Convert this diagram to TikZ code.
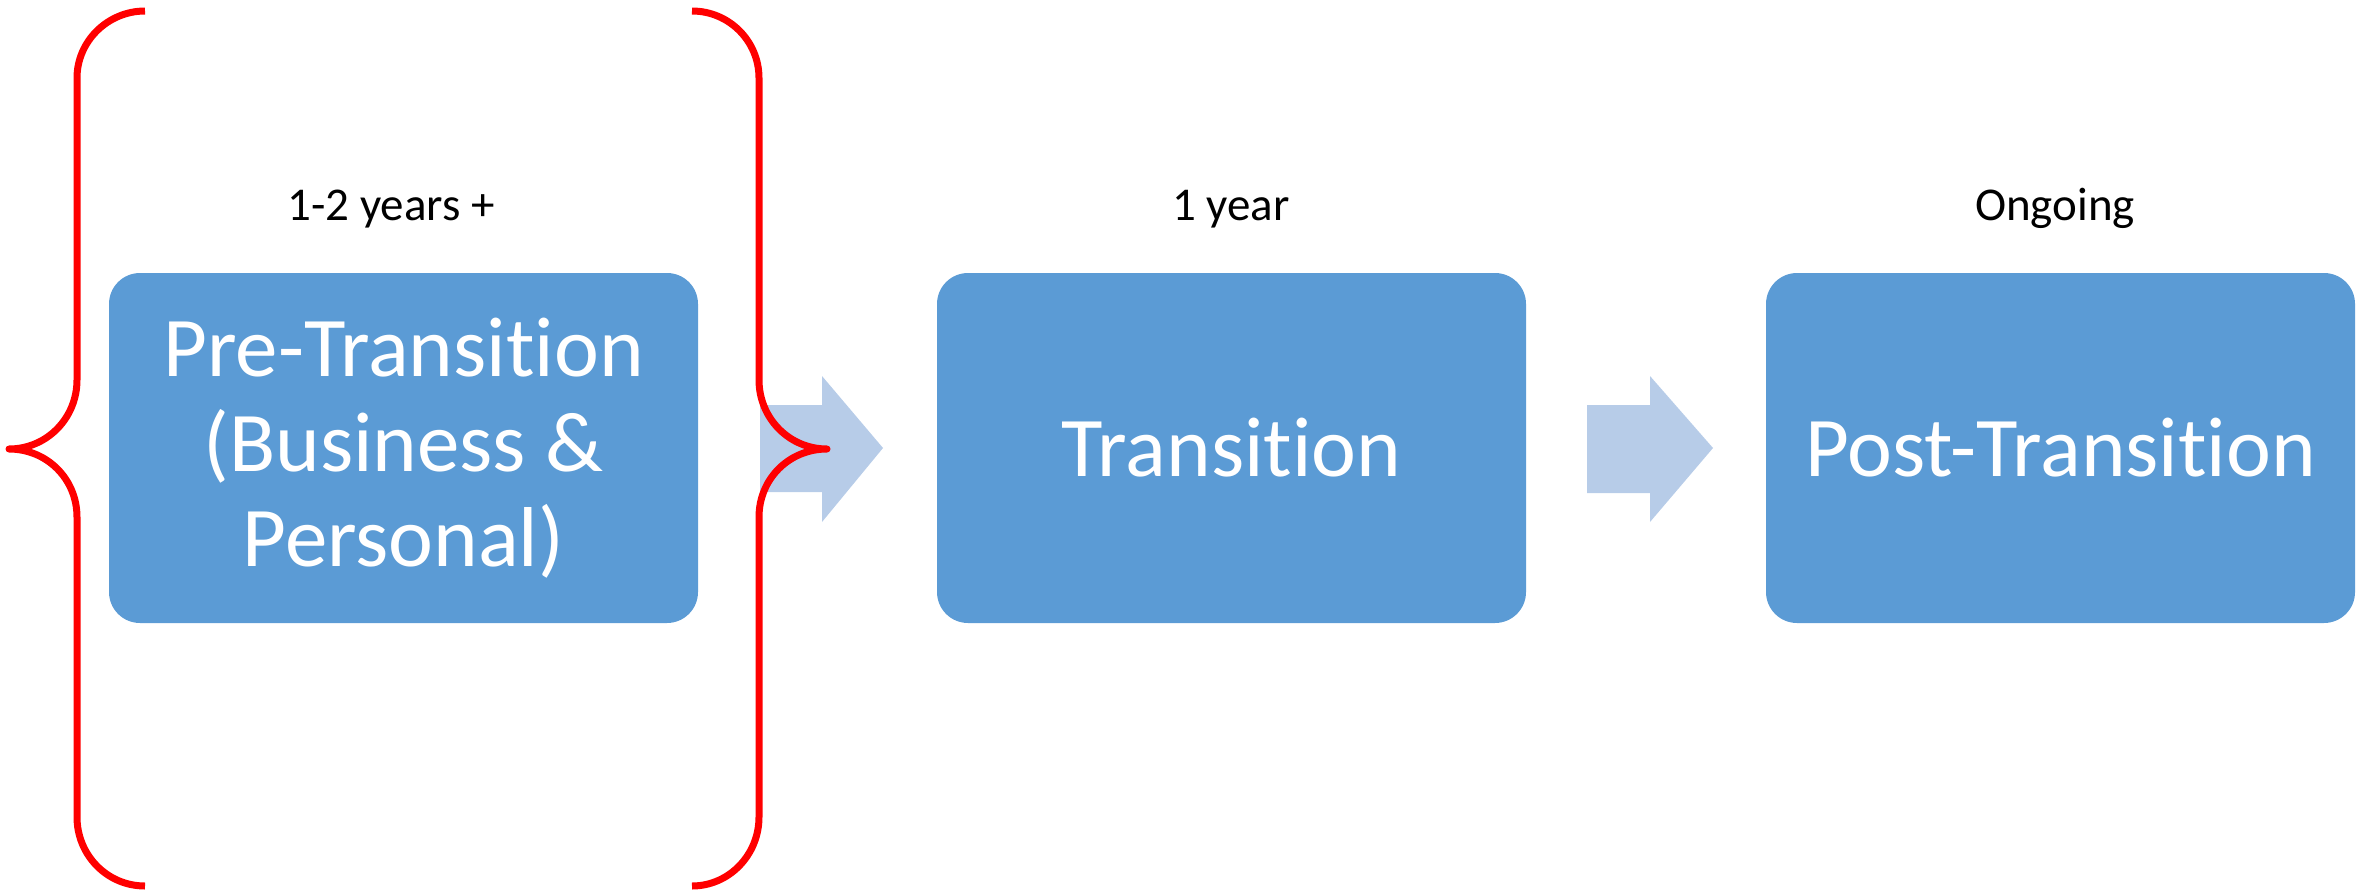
\documentclass[tikz,border=0pt]{standalone}
\usepackage{fontspec}
\setmainfont{Carlito}[Ligatures={NoCommon,NoContextual}]
\definecolor{boxblue}{HTML}{5B9BD5}
\definecolor{arrowblue}{HTML}{B7CCE8}
\definecolor{bracered}{HTML}{FF0000}
\tikzset{
  phase/.style={fill=boxblue, rounded corners=31pt, minimum width=589pt, minimum height=350pt, inner sep=0pt, text=white, align=center, font=\fontsize{85}{95}\selectfont},
  period/.style={anchor=base, font=\fontsize{47}{55}\selectfont, text=black},
  flow/.style={fill=arrowblue, draw=none},
  brace/.style={draw=bracered, line width=7pt, line cap=butt, line join=round}
}
\begin{document}
\begin{tikzpicture}[x=1pt,y=-1pt]
\useasboundingbox (0,0) rectangle (2374,891);
% arrows
\fill[flow] (760,405) -- (822,405) -- (822,376) -- (883,448) -- (822,522) -- (822,492) -- (760,492) -- cycle;
\fill[flow] (1587,405) -- (1650,405) -- (1650,376) -- (1713,448) -- (1650,522) -- (1650,493) -- (1587,493) -- cycle;
% boxes
\node[phase] (pre) at (403.5,448) {Pre-Transition\\(Business \&\\Personal)};
\node[phase] (tr) at (1231.5,448) {Transition};
\node[phase] (post) at (2060.5,448) {Post-Transition};
% labels
\node[period] (l1) at (391,220) {1-2 years +};
\node[period] (l2) at (1231,220) {1 year};
\node[period] (l3) at (2055,220) {Ongoing};
% braces
\draw[brace] (145,11) .. controls (108,11) and (77,41) .. (77,78) -- (77,380)
  .. controls (77,418) and (47,449) .. (9,449)
  .. controls (47,449) and (77,479) .. (77,517) -- (77,817)
  .. controls (77,855) and (107,886) .. (145,886);
\draw[brace] (692,11) .. controls (729,11) and (759,41) .. (759,78) -- (759,380)
  .. controls (759,418) and (789,449) .. (827,449)
  .. controls (789,449) and (759,479) .. (759,517) -- (759,817)
  .. controls (759,855) and (729,886) .. (692,886);
\end{tikzpicture}
\end{document}
